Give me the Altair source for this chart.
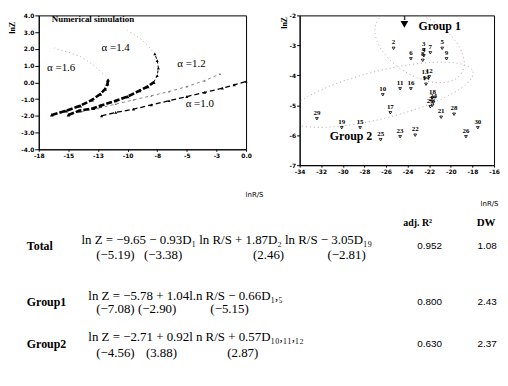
import altair as alt
import numpy as np
import pandas as pd

# ---------------- left panel: numerical simulation ----------------
lx_ticks = [-17.5, -15.0, -12.5, -10.0, -7.5, -5.0, -2.5, 0.0]
lx_labels = ["-18", "-15", "-13", "-10", "-8", "-5", "-3", "0.0"]
ly_ticks = [4.0, 3.0, 2.0, 1.0, 0.0, -1.0, -2.0, -3.0, -4.0]
ly_labels = ["4.0", "3.0", "2.0", "1.0", "0.0", "-1.0", "-2.0", "-3.0", "-4.0"]

a16_x = [-16.4, -15.2, -14.0, -13.0, -12.3, -11.9, -11.7, -11.65]
a16_y = [-1.95, -1.7, -1.4, -1.05, -0.7, -0.4, -0.1, 0.15]
a16b_x = [-11.65, -11.8, -12.2, -13.0, -14.0, -15.0, -16.2]
a16b_y = [0.15, 0.35, 0.6, 1.1, 1.55, 1.8, 2.05]
a14_x = [-15.0, -14.1, -12.9, -12.3, -11.0, -10.0, -9.0, -8.3, -7.8]
a14_y = [-1.95, -1.7, -1.55, -1.4, -1.1, -0.85, -0.5, -0.25, 0.0]
a14u_x = [-7.8, -7.5, -7.4, -7.5, -7.7]
a14u_y = [0.0, 0.4, 0.85, 1.3, 1.7]
a14b_x = [-7.7, -8.3, -8.9, -10.0]
a14b_y = [1.7, 2.2, 2.6, 3.1]
a12_x = [-13.9, -12.5, -11.0, -9.5, -8.0, -6.5, -5.0, -3.5, -2.2]
a12_y = [-1.75, -1.55, -1.3, -1.05, -0.8, -0.55, -0.25, 0.1, 0.5]
a10_x = [-12.2, -11.0, -9.5, -8.0, -6.5, -5.0, -3.5, -2.0, -1.0, 0.0]
a10_y = [-2.0, -1.8, -1.6, -1.35, -1.1, -0.85, -0.6, -0.35, -0.15, 0.05]

alpha_text = ["α =1.6", "α =1.4", "α =1.2", "α =1.0"]
alpha_tx = [-16.8, -12.2, -5.8, -5.1]
alpha_ty = [0.86, 2.05, 1.1, -1.27]

# ---------------- right panel: observed data ----------------
rx_ticks = [-34, -32, -30, -28, -26, -24, -22, -20, -18, -16]
rx_labels = ["-34", "-32", "-30", "-28", "-26", "-24", "-22", "-20", "-18", "-16"]
ry_ticks = [-2, -3, -4, -5, -6, -7]
ry_labels = ["-2", "-3", "-4", "-5", "-6", "-7"]

r_lab = ["1", "2", "3", "4", "5", "6", "7", "8", "9", "10", "11", "12", "13", "14", "15",
         "16", "17", "18", "19", "20", "21", "22", "23", "24", "25", "26", "27", "28", "29", "30"]
r_x = [-24.3, -25.3, -22.5, -22.5, -20.8, -23.7, -21.9, -22.6, -20.4, -26.3, -24.7, -22.0, -22.4, -22.3, -28.4,
       -23.7, -25.6, -21.7, -30.1, -21.9, -20.9, -23.3, -24.7, -21.6, -26.5, -18.6, -21.7, -19.7, -32.4, -17.5]
r_y = [-2.3, -3.1, -3.15, -3.35, -3.1, -3.45, -3.25, -3.5, -3.45, -4.65, -4.45, -4.05, -4.1, -4.3, -5.75,
       -4.45, -5.25, -4.75, -5.75, -5.05, -5.4, -6.0, -6.05, -4.9, -6.15, -6.05, -5.0, -5.3, -5.45, -5.75]

group_names = ["Group 1", "Group 2"]
group_tx = [-23.0, -31.2]
group_ty = [-2.36, -6.02]
# ellipse outlines: centre (data units), semi-axes (px), tilt (deg, screen)
ell_cx = [-22.9, -26.5]
ell_cy = [-3.05, -4.65]
ell_rx = [50, 96]
ell_ry = [29, 24]
ell_ang = [32, -14]

# ---------------- table ----------------
row_names = ["Total", "Group1", "Group2"]
eq_main = ["ln Z = −9.65 − 0.93D₁ ln R/S + 1.87D₂ ln R/S − 3.05D₁₉",
           "ln Z = −5.78 + 1.04l.n R/S − 0.66D₁,₅",
           "ln Z = −2.71 + 0.92l n R/S + 0.57D₁₀,₁₁,₁₂"]
t_vals = [["(−5.19)", "(−3.38)", "(2.46)", "(−2.81)"],
          ["(−7.08)", "(−2.90)", "(−5.15)"],
          ["(−4.56)", "(3.88)", "(2.87)"]]
adj_r2 = ["0.952", "0.800", "0.630"]
dw = ["1.08", "2.43", "2.37"]

# layout
LW, LH = 209, 135
RW, RH = 196, 151
SERIF = "Liberation Serif"
SANS = "DejaVu Sans"


def lab_expr(vals, labels):
    v = ",".join(repr(float(a)) for a in vals)
    s = ",".join("'" + t + "'" for t in labels)
    return f"[{s}][indexof([{v}], datum.value)]"


def curve(name, part, xs, ys):
    return pd.DataFrame({"curve": name, "part": part, "i": list(range(len(xs))), "x": xs, "y": ys})


curves = pd.concat([
    curve("1.6", "dense", a16_x, a16_y),
    curve("1.6b", "faint", a16b_x, a16b_y),
    curve("1.4", "dense", a14_x, a14_y),
    curve("1.4u", "upper", a14u_x, a14u_y),
    curve("1.4b", "faint", a14b_x, a14b_y),
    curve("1.2", "light", a12_x, a12_y),
    curve("1.0", "dashed", a10_x, a10_y),
], ignore_index=True)

lx = alt.X("x:Q", scale=alt.Scale(domain=[-17.5, 0], nice=False, zero=False),
           axis=alt.Axis(values=lx_ticks, labelExpr=lab_expr(lx_ticks, lx_labels), title="lnR/S",
                         titleX=217, titleY=46, titleAlign="center", titleBaseline="middle",
                         titleFont=SANS, titleFontSize=7, titleFontWeight="normal",
                         labelFont=SANS, labelFontSize=6, labelFontWeight="bold", labelColor="black",
                         tickSize=2, tickColor="black", domainColor="black", labelPadding=1,
                         labelFlush=False, labelOverlap=False, grid=False))
ly = alt.Y("y:Q", scale=alt.Scale(domain=[-4, 4], nice=False, zero=False),
           axis=alt.Axis(values=ly_ticks, labelExpr=lab_expr(ly_ticks, ly_labels), title="lnZ",
                         titleX=-26, titleY=6, titleAngle=270, titleAlign="right", titleBaseline="middle",
                         titleFont=SERIF, titleFontSize=8, titleFontWeight="bold",
                         labelFont=SANS, labelFontSize=6, labelFontWeight="bold", labelColor="black",
                         tickSize=4, tickColor="black", domainColor="black", labelPadding=1,
                         labelFlush=False, labelOverlap=False, grid=False))

base = alt.Chart(curves).encode(x=lx, y=ly, order="i:Q", detail="curve:N")


def part(p):
    return base.transform_filter(alt.datum.part == p)


dense_line = part("dense").mark_line(color="black", strokeWidth=2.6, strokeDash=[6, 2])
dense_pts = part("dense").mark_point(shape="triangle-up", filled=True, size=14, color="black", opacity=1)
upper_line = part("upper").mark_line(color="black", strokeWidth=1, strokeDash=[3, 2])
upper_pts = part("upper").mark_point(shape="triangle-up", filled=True, size=10, color="black", opacity=1)
faint_line = part("faint").mark_line(color="#aaaaaa", strokeWidth=1, strokeDash=[1, 3])
light_line = part("light").mark_line(color="#888888", strokeWidth=1, strokeDash=[3, 3])
light_pts = part("light").mark_point(shape="triangle-up", filled=True, size=5, color="#777777", opacity=1)
dash_line = part("dashed").mark_line(color="black", strokeWidth=1.3, strokeDash=[5, 3])
dash_pts = part("dashed").mark_point(shape="triangle-up", filled=True, size=10, color="black", opacity=1)

alpha_df = pd.DataFrame({"t": alpha_text, "x": alpha_tx, "y": alpha_ty})
alpha_txt = alt.Chart(alpha_df).mark_text(font=SERIF, fontSize=11, align="left", baseline="middle",
                                          color="black").encode(x=lx, y=ly, text="t:N")
title_df = pd.DataFrame({"t": ["Numerical simulation"], "x": [-16.4], "y": [3.76]})
title_txt = alt.Chart(title_df).mark_text(font=SERIF, fontSize=9, fontWeight="bold", align="left",
                                          baseline="middle", color="black").encode(x=lx, y=ly, text="t:N")

left = alt.layer(faint_line, light_line, light_pts, dash_line, dash_pts, upper_line, upper_pts,
                 dense_line, dense_pts, alpha_txt, title_txt).properties(
    width=LW, height=LH, view=alt.ViewBackground(stroke="black", strokeWidth=1))

# ---------------- right panel ----------------
rxs = alt.X("x:Q", scale=alt.Scale(domain=[-34, -16], nice=False, zero=False),
            axis=alt.Axis(values=rx_ticks, labelExpr=lab_expr(rx_ticks, rx_labels), title="lnR/S",
                          titleX=RW + 4, titleY=39, titleAlign="right", titleBaseline="middle",
                          titleFont=SANS, titleFontSize=7, titleFontWeight="normal",
                          labelFont=SANS, labelFontSize=6, labelFontWeight="bold", labelColor="black",
                          tickSize=2, tickColor="black", domainColor="black", labelPadding=1,
                          labelFlush=False, labelOverlap=False, grid=False))
rys = alt.Y("y:Q", scale=alt.Scale(domain=[-7, -2], nice=False, zero=False),
            axis=alt.Axis(values=ry_ticks, labelExpr=lab_expr(ry_ticks, ry_labels), title="lnZ",
                          titleX=-15, titleY=1, titleAngle=270, titleAlign="right", titleBaseline="middle",
                          titleFont=SERIF, titleFontSize=8, titleFontWeight="bold",
                          labelFont=SANS, labelFontSize=6, labelFontWeight="bold", labelColor="black",
                          tickSize=3, tickColor="black", domainColor="black", labelPadding=1,
                          labelFlush=False, labelOverlap=False, grid=False))

ppx = RW / 18.0
ppy = RH / 5.0
ell_frames = []
for g in range(2):
    t = np.linspace(0, 2 * np.pi, 90)
    th = np.radians(ell_ang[g])
    px = ell_rx[g] * np.cos(t) * np.cos(th) - ell_ry[g] * np.sin(t) * np.sin(th)
    py = ell_rx[g] * np.cos(t) * np.sin(th) + ell_ry[g] * np.sin(t) * np.cos(th)
    ell_frames.append(pd.DataFrame({"g": group_names[g], "i": np.arange(len(t)),
                                    "x": ell_cx[g] + px / ppx, "y": ell_cy[g] - py / ppy}))
ell_df = pd.concat(ell_frames, ignore_index=True)
ellipses = alt.Chart(ell_df).mark_line(color="#aaaaaa", strokeWidth=1, strokeDash=[1, 3], clip=True).encode(
    x=rxs, y=rys, order="i:Q", detail="g:N")

pts_df = pd.DataFrame({"lab": r_lab, "x": r_x, "y": r_y})
pts = alt.Chart(pts_df).transform_filter(alt.datum.lab != "1").mark_point(
    shape="triangle-down", size=8, color="black", strokeWidth=0.8, opacity=1).encode(x=rxs, y=rys)
pt1 = alt.Chart(pts_df).transform_filter(alt.datum.lab == "1").mark_point(
    shape="triangle-down", size=60, filled=True, color="black", opacity=1).encode(x=rxs, y=rys)
labs = alt.Chart(pts_df).mark_text(font=SERIF, fontSize=7, fontWeight="bold", dy=-6, color="black").encode(
    x=rxs, y=rys, text="lab:N")
grp_df = pd.DataFrame({"t": group_names, "x": group_tx, "y": group_ty})
grp = alt.Chart(grp_df).mark_text(font=SERIF, fontSize=12, fontWeight="bold", align="left",
                                  baseline="middle", color="black").encode(x=rxs, y=rys, text="t:N")

right = alt.layer(ellipses, pts, pt1, labs, grp).properties(
    width=RW, height=RH, view=alt.ViewBackground(stroke="black", strokeWidth=1))

# ---------------- table ----------------
TL = 37  # page x of table origin


def txt(s, x, y, **kw):
    return alt.Chart(pd.DataFrame({"t": [s]})).mark_text(**kw).encode(
        x=alt.value(x - TL), y=alt.value(y), text="t:N")


row_y = [35, 91, 133]
eq1_y = [28, 85, 126]
eq2_y = [44, 98, 142]
eq1_x = [80, 87, 87]
t_x = [[95, 143, 253, 328], [95, 137, 210], [95, 145, 227]]

layers = [
    txt("adj. R²", 419, 11, font=SERIF, fontSize=10, fontWeight="bold", align="center", baseline="middle"),
    txt("DW", 488, 11, font=SERIF, fontSize=11, fontWeight="bold", align="center", baseline="middle"),
]
for r in range(3):
    layers.append(txt(row_names[r], 25, row_y[r], font=SERIF, fontSize=12, fontWeight="bold",
                      align="left", baseline="middle"))
    layers.append(txt(eq_main[r], eq1_x[r], eq1_y[r], font=SERIF, fontSize=13, align="left",
                      baseline="middle"))
    for j, tv in enumerate(t_vals[r]):
        layers.append(txt(tv, t_x[r][j], eq2_y[r], font=SERIF, fontSize=13, align="left", baseline="middle"))
    layers.append(txt(adj_r2[r], 431, row_y[r], font="Liberation Sans", fontSize=10, align="center",
                      baseline="middle"))
    layers.append(txt(dw[r], 489, row_y[r], font="Liberation Sans", fontSize=10, align="center",
                      baseline="middle"))

table = alt.layer(*layers).properties(width=LW, height=150,
                                      view=alt.ViewBackground(stroke="transparent"))

chart = alt.concat(left, right, table, columns=2, bounds="flush",
                   spacing={"row": 47, "column": 54}).properties(
    padding={"left": 0, "top": 2, "right": 0, "bottom": 0})

chart.save("out.html", embed_options={"renderer": "svg", "actions": False})
